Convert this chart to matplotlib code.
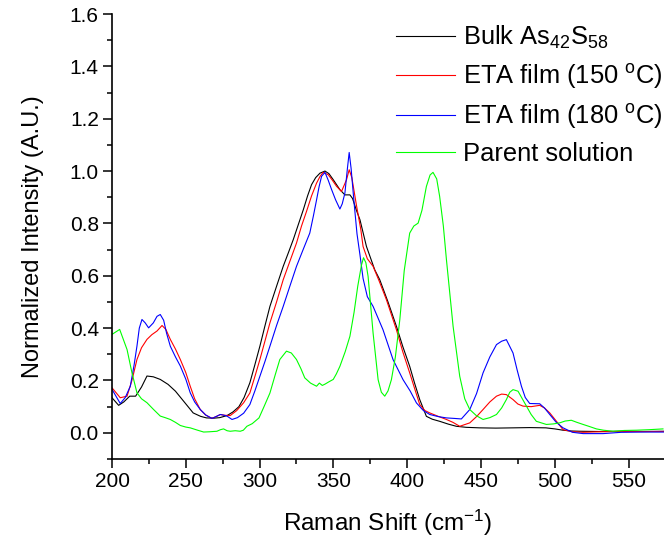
import matplotlib
matplotlib.use("Agg")
import matplotlib.pyplot as plt
from matplotlib.ticker import MultipleLocator, FormatStrFormatter

plt.rcParams["font.family"] = ["Liberation Sans", "DejaVu Sans"]
plt.rcParams["mathtext.fontset"] = "custom"
plt.rcParams["mathtext.rm"] = "Liberation Sans"
plt.rcParams["mathtext.it"] = "Liberation Sans:italic"
plt.rcParams["mathtext.bf"] = "Liberation Sans:bold"

# Raman spectra (normalized intensity vs Raman shift in cm^-1)
bulk_x = [200, 204.5, 208, 212, 216, 220, 223.7, 228, 232.7, 238, 243, 248.5, 255, 260, 264, 269, 273, 278,
          282, 286, 289.5, 293.4, 296.8, 300.2, 303.6, 307, 311.5, 316, 319.5, 322.8, 326.2, 329.6, 332.5,
          335.2, 338, 340.9, 344.3, 347, 349.9, 354.4, 357.8, 361.2, 363, 365.6, 368, 372.4, 378, 381.4, 387,
          392.7, 397, 401.7, 405, 408.5, 413, 417, 422, 428, 433.3, 440, 449, 460, 471.7, 483, 494, 500,
          505.6, 511, 517, 530, 545, 560, 574]
bulk_y = [0.134, 0.105, 0.118, 0.140, 0.140, 0.175, 0.217, 0.214, 0.204, 0.185, 0.159, 0.121, 0.076, 0.063,
          0.057, 0.056, 0.058, 0.066, 0.080, 0.100, 0.135, 0.191, 0.260, 0.331, 0.408, 0.483, 0.560, 0.636,
          0.688, 0.738, 0.795, 0.852, 0.905, 0.948, 0.975, 0.992, 1.000, 0.990, 0.967, 0.929, 0.909, 0.909,
          0.895, 0.850, 0.814, 0.712, 0.623, 0.585, 0.500, 0.407, 0.330, 0.254, 0.190, 0.127, 0.063, 0.052,
          0.044, 0.033, 0.025, 0.021, 0.019, 0.018, 0.019, 0.020, 0.019, 0.015, 0.010, 0.007, 0.006, 0.005,
          0.006, 0.005, 0.006]

eta150_x = [200, 205.6, 210.2, 213.5, 216.9, 220, 223.7, 227, 230.5, 233.9, 236.5, 239.5, 243, 246.3, 250,
            253, 256, 259.8, 263.5, 267.7, 270.5, 273.4, 276.5, 280.1, 284.5, 289.2, 293.4, 296.8, 300.2,
            303.6, 307, 311.5, 316, 320.5, 325, 328.4, 331.8, 335.2, 338.6, 341, 343.1, 346.5, 349.3, 352.1,
            355.5, 358.9, 360.7, 362.5, 365.6, 368.6, 370.1, 373, 376.9, 381, 385.9, 392.7, 397, 401.7, 405,
            408.5, 412, 415.3, 421, 426.6, 431, 435.6, 442.4, 447, 451.4, 456, 460.5, 464, 467.2, 471.7, 475,
            478.5, 484, 489.8, 493, 496.6, 501, 505.6, 512, 519.2, 530, 545, 560, 574]
eta150_y = [0.172, 0.134, 0.140, 0.200, 0.280, 0.325, 0.357, 0.375, 0.389, 0.410, 0.395, 0.357, 0.320, 0.280,
            0.230, 0.178, 0.130, 0.089, 0.068, 0.055, 0.062, 0.070, 0.067, 0.066, 0.085, 0.115, 0.152, 0.215,
            0.280, 0.350, 0.420, 0.500, 0.585, 0.655, 0.725, 0.790, 0.846, 0.905, 0.954, 0.980, 0.995, 0.986,
            0.965, 0.942, 0.922, 0.967, 1.005, 0.975, 0.870, 0.776, 0.712, 0.665, 0.636, 0.580, 0.509, 0.394,
            0.310, 0.229, 0.170, 0.108, 0.085, 0.076, 0.063, 0.051, 0.040, 0.025, 0.038, 0.062, 0.089, 0.118,
            0.140, 0.148, 0.146, 0.127, 0.110, 0.102, 0.100, 0.105, 0.095, 0.076, 0.045, 0.012, 0.004, 0.002,
            0.004, 0.005, 0.005, 0.005]

eta180_x = [200, 205.6, 209, 212.4, 215, 216.9, 218.5, 220.3, 222.5, 224.8, 228, 230.5, 232.7, 235, 237,
            239.5, 243, 246.3, 250, 253, 256, 259.8, 263.5, 267.7, 270.5, 273.4, 276, 277.9, 281.3, 285,
            289.2, 293.4, 296.8, 300.2, 303.6, 307, 311.5, 316, 320.5, 325, 329.5, 334, 336.5, 338.6, 340.3,
            342, 344.3, 346.5, 348.8, 351.5, 354.4, 356, 357.8, 359.5, 360.7, 362, 364, 366, 368, 370.1, 373,
            376.9, 383.6, 390.4, 397.2, 402, 406.3, 411, 415.3, 421, 426.6, 432, 436.7, 442.4, 447, 451.4, 456,
            460.5, 464, 467.2, 471.7, 474.5, 477.4, 480, 483, 489.8, 493, 496.6, 501, 505.6, 512, 519.2, 532.7,
            545, 560, 574]
eta180_y = [0.166, 0.112, 0.135, 0.178, 0.260, 0.331, 0.400, 0.433, 0.420, 0.401, 0.420, 0.445, 0.452, 0.430,
            0.380, 0.331, 0.290, 0.255, 0.205, 0.153, 0.118, 0.089, 0.068, 0.055, 0.062, 0.070, 0.067, 0.064,
            0.051, 0.058, 0.075, 0.108, 0.160, 0.216, 0.272, 0.331, 0.410, 0.483, 0.560, 0.636, 0.700, 0.763,
            0.830, 0.890, 0.940, 0.980, 0.995, 0.965, 0.929, 0.890, 0.855, 0.875, 0.916, 1.010, 1.071, 1.010,
            0.880, 0.760, 0.680, 0.590, 0.520, 0.483, 0.394, 0.280, 0.203, 0.160, 0.114, 0.085, 0.070, 0.062,
            0.057, 0.055, 0.053, 0.089, 0.150, 0.229, 0.290, 0.337, 0.350, 0.356, 0.305, 0.240, 0.178, 0.135,
            0.112, 0.111, 0.095, 0.070, 0.040, 0.019, 0.002, -0.003, -0.003, 0.002, 0.003, 0.003]

parent_x = [200, 205.2, 210.2, 213.5, 216.9, 220, 223.7, 228, 232.7, 236, 239.5, 243, 246.3, 250, 253, 258,
            262.1, 266, 271.1, 273.5, 275.6, 278, 280.1, 283.5, 286.9, 289, 291.4, 295, 299.6, 303, 307, 310.5,
            313.7, 318.2, 321.5, 325, 328, 330.6, 334.5, 338.6, 340.5, 342.5, 344.3, 347, 349.9, 352, 354.4,
            358, 361.2, 364, 366.5, 369, 370.4, 372, 373.5, 376.9, 380.3, 382.5, 384.8, 387, 389.3, 392, 395,
            398, 401.7, 404.5, 407.4, 410, 413, 415.5, 417.5, 420, 422, 424.5, 426.6, 431.1, 435.6, 439, 442.4,
            447, 451.4, 456, 460.5, 464, 467.2, 469.5, 471.7, 475.1, 478, 480.8, 484, 487.5, 494.3, 499, 503.3,
            507, 511.2, 515, 519.2, 523, 528.2, 533, 539.5, 547, 555.3, 564, 573.3]
parent_y = [0.376, 0.395, 0.318, 0.230, 0.153, 0.130, 0.115, 0.090, 0.064, 0.058, 0.051, 0.040, 0.028, 0.022,
            0.019, 0.010, 0.003, 0.004, 0.006, 0.012, 0.015, 0.008, 0.006, 0.008, 0.006, 0.010, 0.025, 0.035,
            0.057, 0.100, 0.152, 0.220, 0.280, 0.312, 0.305, 0.280, 0.245, 0.210, 0.190, 0.178, 0.190, 0.181,
            0.186, 0.195, 0.204, 0.225, 0.254, 0.310, 0.369, 0.460, 0.560, 0.640, 0.669, 0.650, 0.598, 0.381,
            0.203, 0.155, 0.140, 0.160, 0.203, 0.290, 0.432, 0.620, 0.763, 0.790, 0.801, 0.850, 0.941, 0.985,
            0.995, 0.970, 0.903, 0.790, 0.661, 0.407, 0.216, 0.130, 0.089, 0.065, 0.051, 0.058, 0.070, 0.095,
            0.127, 0.155, 0.165, 0.159, 0.130, 0.102, 0.070, 0.044, 0.032, 0.034, 0.038, 0.045, 0.048, 0.040,
            0.032, 0.025, 0.015, 0.010, 0.006, 0.009, 0.010, 0.012, 0.015]

series_labels = [r"Bulk As$_{42}$S$_{58}$",
                 r"ETA film (150 $^{\mathrm{o}}$C)",
                 r"ETA film (180 $^{\mathrm{o}}$C)",
                 "Parent solution"]
series_colors = ["#000000", "#ff0000", "#0000ff", "#00ff00"]

x_label = r"Raman Shift (cm$^{\mathrm{-1}}$)"
y_label = "Normalized Intensity (A.U.)"

fig = plt.figure(figsize=(6.64, 5.43), dpi=100)
ax = fig.add_axes([112 / 664, 84 / 543, 552 / 664, 445 / 543])

series = [(bulk_x, bulk_y), (eta150_x, eta150_y), (eta180_x, eta180_y), (parent_x, parent_y)]
for (xs, ys), lab, col in zip(series, series_labels, series_colors):
    ax.plot(xs, ys, color=col, lw=0.8, label=lab)

ax.set_xlim(200, 574)
ax.set_ylim(-0.1, 1.6)
ax.xaxis.set_major_locator(MultipleLocator(50))
ax.xaxis.set_minor_locator(MultipleLocator(25))
ax.yaxis.set_major_locator(MultipleLocator(0.2))
ax.yaxis.set_minor_locator(MultipleLocator(0.1))
ax.yaxis.set_major_formatter(FormatStrFormatter("%.1f"))

for side in ("top", "right"):
    ax.spines[side].set_visible(False)
for side in ("left", "bottom"):
    ax.spines[side].set_linewidth(1.2)

ax.tick_params(which="major", direction="out", length=6.5, width=1.1, labelsize=15, pad=3)
ax.tick_params(which="minor", direction="out", length=3.6, width=1.1)

ax.set_xlabel(x_label, fontsize=17.5)
ax.set_ylabel(y_label, fontsize=17)
ax.xaxis.set_label_coords(0.5, -0.109)
ax.yaxis.set_label_coords(-0.123, 0.5)

leg = ax.legend(loc="upper left", bbox_to_anchor=(0.515, 0.978), frameon=False, fontsize=18.4,
                handlelength=2.3, handletextpad=0.3, labelspacing=0.43, borderpad=0, borderaxespad=0)

fig.savefig("out.png", dpi=100)
